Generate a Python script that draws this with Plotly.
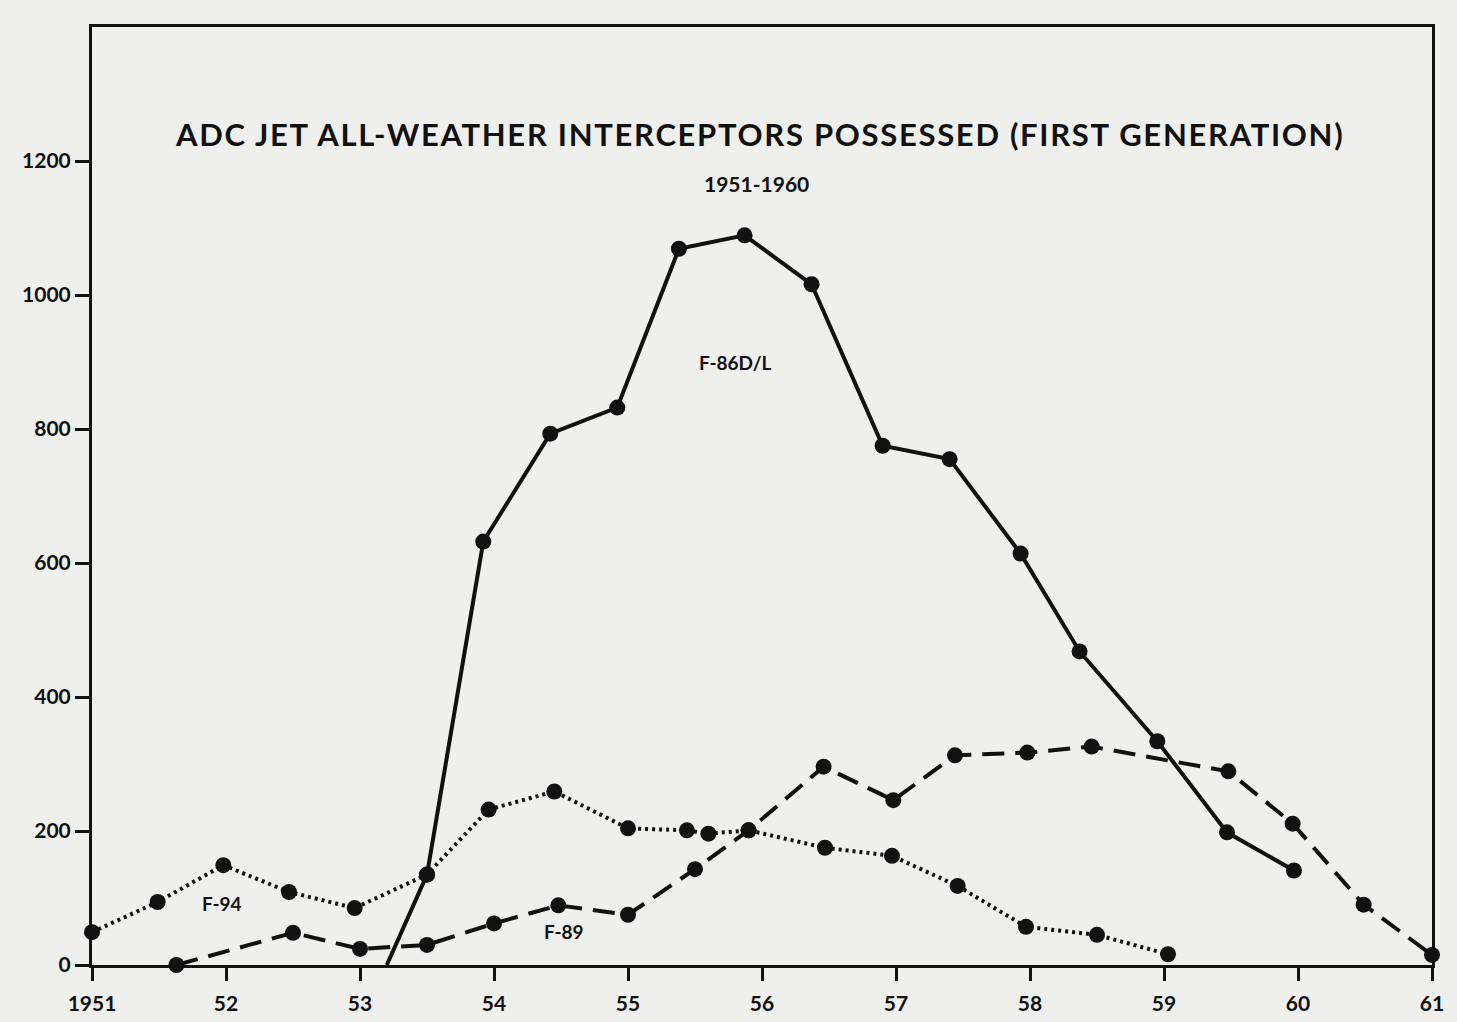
import plotly.graph_objects as go

# ---------------- data ----------------
years_f86 = [1953.20, 1953.50, 1953.92, 1954.42, 1954.92, 1955.38, 1955.87, 1956.37,
             1956.90, 1957.40, 1957.93, 1958.37, 1958.95, 1959.47, 1959.97]
vals_f86 = [0, 135, 632, 793, 832, 1069, 1089, 1016, 775, 755, 614, 468, 334, 198, 141]

years_f94 = [1951.00, 1951.49, 1951.98, 1952.47, 1952.96, 1953.50, 1953.96, 1954.45,
             1955.00, 1955.44, 1955.60, 1955.90, 1956.47, 1956.97, 1957.46, 1957.97,
             1958.50, 1959.03]
vals_f94 = [49, 94, 149, 109, 85, 135, 232, 259, 204, 201, 196, 201, 175, 163, 118, 57, 45, 16]

years_f89 = [1951.63, 1952.50, 1953.00, 1953.50, 1954.00, 1954.48, 1955.00, 1955.50,
             1955.90, 1956.46, 1956.98, 1957.44, 1957.98, 1958.46, 1959.48, 1959.96,
             1960.49, 1961.00]
vals_f89 = [0, 48, 24, 30, 62, 89, 75, 143, 201, 296, 246, 313, 317, 326, 289, 211, 90, 15]

x_tick_vals = list(range(1951, 1962))
x_tick_text = ["1951", "52", "53", "54", "55", "56", "57", "58", "59", "60", "61"]
y_tick_vals = [0, 200, 400, 600, 800, 1000, 1200]

title_text = "ADC JET ALL-WEATHER INTERCEPTORS POSSESSED (FIRST GENERATION)"
subtitle_text = "1951-1960"
series_labels = ["F-86D/L", "F-94", "F-89"]
label_pos_x = [1955.80, 1951.97, 1954.52]
label_pos_y = [900, 92, 50]

# ---------------- figure ----------------
FONT = "Lato, 'Open Sans', sans-serif"
INK = "#111111"
BG = "#efefed"
MS = 16

fig = go.Figure()

fig.add_trace(go.Scatter(
    x=years_f94, y=vals_f94, mode="lines+markers",
    line=dict(color=INK, width=4, dash="3px,4px"),
    marker=dict(size=MS, color=INK), cliponaxis=False, name="F-94"))

fig.add_trace(go.Scatter(
    x=years_f89, y=vals_f89, mode="lines+markers",
    line=dict(color=INK, width=4, dash="22px,11px"),
    marker=dict(size=MS, color=INK), cliponaxis=False, name="F-89"))

# F-86D/L: line starts on the axis without a marker
fig.add_trace(go.Scatter(
    x=years_f86, y=vals_f86, mode="lines",
    line=dict(color=INK, width=4), cliponaxis=False, name="F-86D/L"))
fig.add_trace(go.Scatter(
    x=years_f86[1:], y=vals_f86[1:], mode="markers",
    marker=dict(size=MS, color=INK), cliponaxis=False, name="F-86D/L pts"))

annotations = [
    dict(x=1955.98, y=1241, xref="x", yref="y",
         text="<b><span style='letter-spacing:1.7px'>" + title_text + "</span></b>",
         showarrow=False, font=dict(family=FONT, size=31, color=INK)),
    dict(x=1955.96, y=1167, xref="x", yref="y", text="<b>" + subtitle_text + "</b>",
         showarrow=False, font=dict(family=FONT, size=21, color=INK)),
]
for t, lx, ly in zip(series_labels, label_pos_x, label_pos_y):
    annotations.append(dict(x=lx, y=ly, xref="x", yref="y", text="<b>" + t + "</b>",
                            showarrow=False, font=dict(family=FONT, size=19, color=INK)))

fig.update_layout(
    width=1457, height=1022,
    margin=dict(l=92, r=25, t=27, b=57),
    paper_bgcolor=BG, plot_bgcolor=BG,
    showlegend=False,
    annotations=annotations,
    xaxis=dict(range=[1951, 1961], tickvals=x_tick_vals, ticktext=x_tick_text,
               showgrid=False, zeroline=False, showline=True, mirror=True,
               linecolor=INK, linewidth=3, ticks="outside", ticklen=13,
               tickwidth=3, tickcolor=INK, ticklabelstandoff=5, automargin=False,
               tickfont=dict(family=FONT, size=21, color=INK, weight="bold")),
    yaxis=dict(range=[0, 1400], tickvals=y_tick_vals, automargin=False,
               showgrid=False, zeroline=False, showline=True, mirror=True,
               linecolor=INK, linewidth=3, ticks="outside", ticklen=14,
               tickwidth=3, tickcolor=INK,
               tickfont=dict(family=FONT, size=21, color=INK, weight="bold")),
)

fig.write_html(
    "out.html",
    config={"displayModeBar": False},
    post_script="document.body.style.margin='0';document.body.style.background='%s';"
                "document.body.style.overflow='hidden';" % BG,
)
